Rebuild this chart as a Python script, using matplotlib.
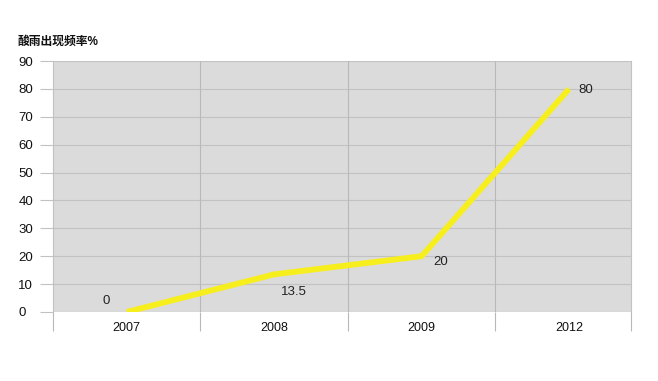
import matplotlib.pyplot as plt
import numpy as np

plt.rcParams['font.family'] = ['Liberation Sans', 'Noto Sans CJK SC', 'DejaVu Sans']

years = ['2007', '2008', '2009', '2012']
rates = [0, 13.5, 20, 80]
y_ticks = [0, 10, 20, 30, 40, 50, 60, 70, 80, 90]

fig = plt.figure(figsize=(6.58, 3.81), dpi=100)
ax = fig.add_axes([53/658, 1 - 312/381, (631-53)/658, (312-61)/381])
ax.set_facecolor('#dcdbdb')

x = np.arange(len(years))
# last category is cut short on the right in the original
ax.set_xlim(-0.5, len(years) - 0.58)
ax.set_ylim(0, 90)

# grid
for t in y_ticks:
    ax.axhline(t, color='#c2c2c2', lw=0.8, zorder=1)
for b in np.arange(0.5, len(years) - 0.5):
    ax.axvline(b, color='#b8b8b8', lw=0.8, zorder=1)

ax.plot(x, rates, color='#f7ee1e', lw=4.2, solid_capstyle='butt', zorder=3)

# data labels
offsets = [(-15, 8), (14, -13), (14, -4), (12, -1)]
for xi, v, (dx, dy) in zip(x, rates, offsets):
    lab = '13.5' if v == 13.5 else str(int(v))
    ax.annotate(lab, (xi, v), xytext=(dx, dy), textcoords='offset points',
                ha='center', va='center', fontsize=9.5, color='#222222', zorder=4)

for s in ax.spines.values():
    s.set_visible(False)
ax.spines['left'].set_visible(True)
ax.spines['left'].set_color('#c2c2c2')
ax.spines['right'].set_visible(True)
ax.spines['right'].set_color('#c2c2c2')

ax.set_yticks(y_ticks)
ax.set_yticklabels([str(t) for t in y_ticks], fontsize=9.5, color='#111111')
ax.tick_params(axis='y', length=9.5, color='#c2c2c2', width=0.8, pad=15.5)
for lab in ax.get_yticklabels():
    lab.set_horizontalalignment('left')

ax.set_xticks(x)
ax.set_xticklabels(years, fontsize=9, color='#111111')
ax.set_xticks(list(np.arange(-0.5, len(years) - 1)) + [len(years) - 0.58], minor=True)
ax.tick_params(axis='x', which='major', length=0, pad=7)
ax.tick_params(axis='x', which='minor', length=14, color='#b8b8b8', width=0.8)

fig.text(18/658, 1 - 42/381, '酸雨出现频率%', fontsize=8.5, fontweight='bold',
         va='center', ha='left', color='#111111')

fig.savefig('out.png', dpi=100, facecolor='white')
